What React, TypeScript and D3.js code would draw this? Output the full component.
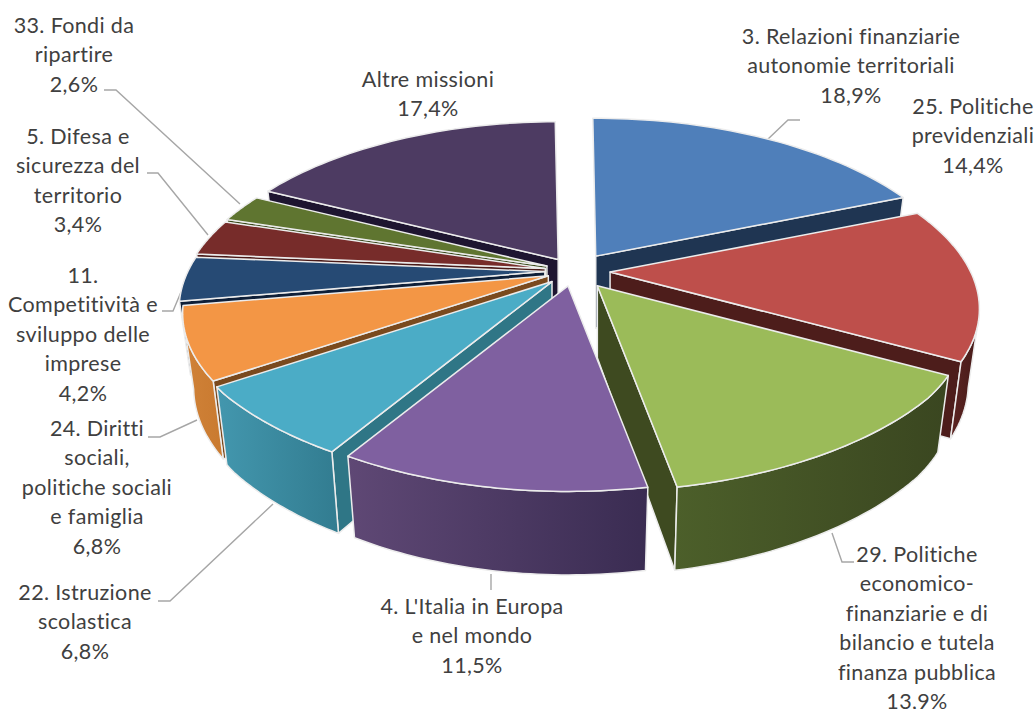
import React from "react";
import * as d3 from "d3";

const names = ["3","25","29","4","22","24","11","5","33","Altre"];
const values = [18.9, 14.4, 13.9, 11.5, 6.8, 6.8, 4.2, 3.4, 2.6, 17.4];
const explode = [0.108, 0.099, 0.11, 0.092, 0.088, 0.076, 0.08, 0.08, 0.08, 0.082];
const topColors = ["#4F7FBA","#BE4F4B","#9BBB59","#7F60A0","#4BACC6","#F39645","#264A74","#772C2A","#5F7530","#4D3B62"];
const sideColors = ["#1F3552","#4D1D1B","#3E4A20","#33264A","#2F7686","#7A4A1E","#0E1F38","#4A1A18","#3A4A1C","#1E1530"];
const wallFrom = ["#3A6494","#5C2422","#4C5F2A","#5F4875","#4397AE","#D08238","#1D3A5E","#5C2220","#4A5C25","#3B2D4D"];
const wallTo = ["#2B4A70","#451A18","#3A4620","#3A2C52","#327C90","#C97A30","#1D3A5E","#5C2220","#4A5C25","#3B2D4D"];
const paintOrder = [9, 0, 8, 7, 6, 1, 5, 4, 2, 3];

const labels: { lines: string[]; cx: number; y0: number }[] = [
  { lines: ["3. Relazioni finanziarie", "autonomie territoriali", "18,9%"], cx: 851, y0: 36 },
  { lines: ["25. Politiche", "previdenziali", "14,4%"], cx: 973, y0: 106 },
  { lines: ["29. Politiche", "economico-", "finanziarie e di", "bilancio e tutela", "finanza pubblica", "13,9%"], cx: 917, y0: 554 },
  { lines: ["4. L'Italia in Europa", "e nel mondo", "11,5%"], cx: 472, y0: 606 },
  { lines: ["22. Istruzione", "scolastica", "6,8%"], cx: 85, y0: 592 },
  { lines: ["24. Diritti", "sociali,", "politiche sociali", "e famiglia", "6,8%"], cx: 97, y0: 428 },
  { lines: ["11.", "Competitività e", "sviluppo delle", "imprese", "4,2%"], cx: 83, y0: 275 },
  { lines: ["5. Difesa e", "sicurezza del", "territorio", "3,4%"], cx: 78, y0: 136 },
  { lines: ["33. Fondi da", "ripartire", "2,6%"], cx: 74, y0: 25 },
  { lines: ["Altre missioni", "17,4%"], cx: 428, y0: 79 },
];

const leaders: [number, number][][] = [
  [[767,140],[788,120],[800,120]],
  [[832,533],[842,562],[854,562]],
  [[491,574],[491,590]],
  [[158,601],[170,601],[273,504]],
  [[148,437],[160,437],[197,420]],
  [[162,311],[173,311],[181,292]],
  [[147,173],[158,173],[208,235]],
  [[104,90],[116,90],[240,204]],
];

const CX = 574, CY = 271, RX = 365, RY = 165, PERSP = 0.197, DEPTH = 72, SHRINK = 0.97;
const LINE_H = 29.5;
const ROTATE = -0.01;

const line = d3.line<[number, number]>();
const pieGen = d3.pie<number>().sort(null).startAngle(ROTATE).endAngle(2 * Math.PI + ROTATE);

function rim(a: number, ox: number, oy: number, bottom: boolean): [number, number] {
  const px = Math.sin(a), py = -Math.cos(a);
  const w = 1 / (1 - PERSP * py);
  const s = bottom ? SHRINK : 1;
  const lens = 0.983 + 0.005 * px + 0.02 * py - 0.09 * Math.max(0, py - 0.6);
  return [ox + RX * lens * px * w * s, oy + RY * py * w * s + (bottom ? DEPTH * w : 0)];
}

export default function App() {
  const arcs = pieGen(values);
  const slices = arcs.map((d, i) => {
    const mid = (d.startAngle + d.endAngle) / 2;
    const ox = CX + explode[i] * RX * Math.sin(mid);
    const oy = CY - explode[i] * RY * Math.cos(mid);
    const angles = d3.range(0, 41).map((k) => d.startAngle + ((d.endAngle - d.startAngle) * k) / 40);
    const topRim = angles.map((a) => rim(a, ox, oy, false));
    const botRim = angles.map((a) => rim(a, ox, oy, true));
    const front = angles.filter((a) => -Math.cos(a) >= 0.22);
    const apex: [number, number] = [ox, oy];
    const apexB: [number, number] = [ox, oy + DEPTH];
    return {
      i,
      top: line([apex, ...topRim]) + "Z",
      outer:
        front.length > 1
          ? line([
              ...front.map((a) => rim(a, ox, oy, false)),
              ...front.slice().reverse().map((a) => rim(a, ox, oy, true)),
            ]) + "Z"
          : null,
      wallA: d.startAngle > Math.PI ? line([apex, topRim[0], botRim[0], apexB]) + "Z" : null,
      wallB: d.endAngle < Math.PI ? line([apex, topRim[40], botRim[40], apexB]) + "Z" : null,
    };
  });
  return (
    <svg width={1036} height={709} style={{ position: "absolute", left: 0, top: 0 }}>
      <defs>
        {values.map((_, i) => (
          <linearGradient key={i} id={`wall${i}`} x1="0" x2="1" y1="0" y2="0">
            <stop offset="0" stopColor={wallFrom[i]} />
            <stop offset="1" stopColor={wallTo[i]} />
          </linearGradient>
        ))}
      </defs>
      {leaders.map((l, i) => (
        <path key={i} d={line(l) as string} fill="none" stroke="#a6a6a6" strokeWidth={1.4} />
      ))}
      {paintOrder.map((idx) => {
        const s = slices[idx];
        return (
          <g key={names[idx]} stroke="#ececec" strokeWidth={1.5} strokeLinejoin="round">
            {s.wallA && <path d={s.wallA} fill={sideColors[idx]} />}
            {s.wallB && <path d={s.wallB} fill={sideColors[idx]} />}
            {s.outer && <path d={s.outer} fill={`url(#wall${idx})`} />}
            <path d={s.top} fill={topColors[idx]} />
          </g>
        );
      })}
      <g fontFamily="Lato" fontSize={21.5} fill="#404040" textAnchor="middle" letterSpacing={0.35} style={{ fontVariantLigatures: "none" }}>
        {labels.map((l) =>
          l.lines.map((t, j) => (
            <text key={l.cx + t} x={l.cx} y={l.y0 + j * LINE_H} dy="0.35em">
              {t}
            </text>
          ))
        )}
      </g>
    </svg>
  );
}
